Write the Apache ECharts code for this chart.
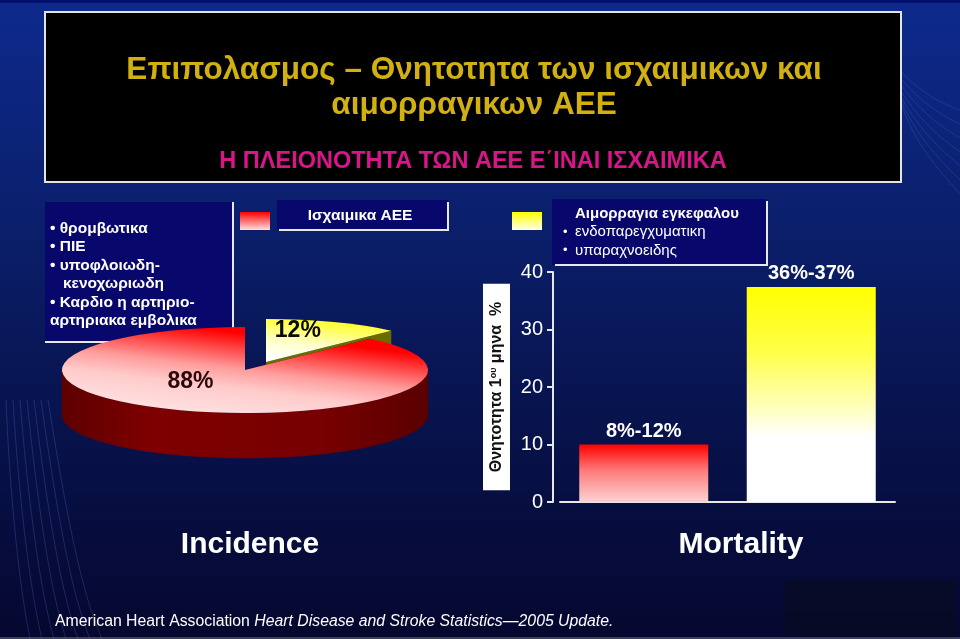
<!DOCTYPE html>
<html><head><meta charset="utf-8">
<script src="https://cdn.jsdelivr.net/npm/echarts@6/dist/echarts.min.js"></script>
<style>html,body{margin:0;padding:0;background:#0a1a5a}#c{width:960px;height:639px}</style>
</head><body><div id="c"></div>
<script>
// ---------- data ----------
const titleLines = ['Επιπολασμος – Θνητοτητα των ισχαιμικων και', 'αιμορραγικων ΑΕΕ'];
const subtitle = 'Η ΠΛΕΙΟΝΟΤΗΤΑ ΤΩΝ ΑΕΕ Ε΄ΙΝΑΙ ΙΣΧΑΙΜΙΚΑ';
const ischemicTypeLines = ['• θρομβωτικα', '• ΠΙΕ', '• υποφλοιωδη-', '   κενοχωριωδη', '• Καρδιο η αρτηριο-', 'αρτηριακα εμβολικα'];
const ischemicLegend = 'Ισχαιμικα ΑΕΕ';
const hemorrhageLegendTitle = 'Αιμορραγια εγκεφαλου';
const hemorrhageTypes = ['ενδοπαρεγχυματικη', 'υπαραχνοειδης'];
const pieCategories = ['Αιμορραγικα ΑΕΕ', 'Ισχαιμικα ΑΕΕ'];
const incidenceValues = [12, 88];
const incidenceLabels = ['12%', '88%'];
const mortalityCategories = ['Ισχαιμικα ΑΕΕ', 'Αιμορραγια εγκεφαλου'];
const mortalityValues = [10, 37.4];
const mortalityLabels = ['8%-12%', '36%-37%'];
const yTickMin = 0, yTickMax = 40, yTickStep = 10;
const yAxisName = 'Θνητοτητα 1{sup|ου} μηνα  %';
const panelTitles = ['Incidence', 'Mortality'];
const sourceNormal = 'American Heart Association ';
const sourceItalic = 'Heart Disease and Stroke Statistics—2005 Update.';

// ---------- styles ----------
const SANS = "'Liberation Sans', Arial, sans-serif";
const lin = (x, y, x2, y2, stops, global) => ({type: 'linear', x, y, x2, y2, global: !!global,
  colorStops: stops.map(s => ({offset: s[0], color: s[1]}))});

const PIE = {cx: 245, cy: 370, rx: 183, ry: 43, depth: 45};
const pieExplode = [[21, -8], [0, 0]];
const pieTopFill = [
  lin(0.25, 1, 0.85, 0, [[0, '#ffffff'], [0.35, '#ffffd0'], [1, '#ffff00']]),
  lin(0.725, 0.055, 0.275, 0.945, [[0, '#ff0000'], [0.12, '#ff0000'], [0.3, '#ff4a4a'], [0.5, '#ff9c9c'], [0.7, '#ffcaca'], [1, '#ffe0e0']])
];
const pieSideFill = [
  '#6b6b00',
  lin(62, 0, 428, 0, [[0, '#5e0000'], [0.25, '#7e0000'], [0.7, '#780000'], [1, '#5a0000']], true)
];
const pieLabelStyle = [{da: -8, r: 0.74, color: '#0a0a0a'}, {da: 25, r: 0.41, color: '#2a0808'}];

function ellPt(cx, cy, deg, r) {
  const a = deg * Math.PI / 180; r = r == null ? 1 : r;
  return [cx + PIE.rx * r * Math.sin(a), cy - PIE.ry * r * Math.cos(a)];
}

function renderPie(params, api) {
  const i = params.dataIndex;
  const total = incidenceValues.reduce((a, b) => a + b, 0);
  let start = 0;
  for (let k = 0; k < i; k++) start += incidenceValues[k] / total * 360;
  const sweep = api.value(0) / total * 360;
  const end = start + sweep;
  const cx = PIE.cx + pieExplode[i][0], cy = PIE.cy + pieExplode[i][1];
  const D = PIE.depth;
  const children = [];
  const zb = i * 10;
  // front-facing outer side band
  const f0 = Math.max(start, 90), f1 = Math.min(end, 270);
  if (f1 > f0) {
    const n = Math.ceil((f1 - f0) / 2), up = [], dn = [];
    for (let s = 0; s <= n; s++) {
      const p = ellPt(cx, cy, f0 + (f1 - f0) * s / n);
      up.push(p); dn.push([p[0], p[1] + D]);
    }
    children.push({type: 'polygon', z2: zb + 1, shape: {points: up.concat(dn.reverse())},
      style: {fill: pieSideFill[i], stroke: pieSideFill[i], lineWidth: 0.5}});
  }
  // radial cut faces
  [start, end].forEach(t => {
    const p = ellPt(cx, cy, t);
    children.push({type: 'polygon', z2: zb + 1,
      shape: {points: [[cx, cy], p, [p[0], p[1] + D], [cx, cy + D]]},
      style: {fill: pieSideFill[i]}});
  });
  // top face: circular sector squashed into an ellipse
  children.push({type: 'group', x: cx, y: cy, scaleY: PIE.ry / PIE.rx, children: [
    {type: 'sector', z2: zb + 2,
      shape: {cx: 0, cy: 0, r0: 0, r: PIE.rx, startAngle: (start - 90) * Math.PI / 180, endAngle: (end - 90) * Math.PI / 180, clockwise: true},
      style: {fill: pieTopFill[i]}}
  ]});
  const ls = pieLabelStyle[i];
  const lp = ellPt(cx, cy, start + sweep / 2 + ls.da, ls.r);
  children.push({type: 'text', z2: 50, style: {text: incidenceLabels[i], x: lp[0], y: lp[1],
    align: 'center', verticalAlign: 'middle', fill: ls.color,
    font: 'bold 23px ' + SANS}});
  return {type: 'group', children};
}

const barColors = [
  lin(0, 0, 0, 1, [[0, '#ff0000'], [0.45, '#ff7a7a'], [1, '#fad2d2']]),
  lin(0, 0, 0, 1, [[0, '#ffff00'], [0.3, '#ffff48'], [0.55, '#ffffb8'], [0.7, '#ffffff'], [1, '#ffffff']])
];

// ---------- decorative / layout graphics ----------
const g = [];
g.push({type: 'rect', z: -10, silent: true, shape: {x: 0, y: 0, width: 960, height: 639},
  style: {fill: lin(0, 0, 0, 1, [[0, '#0d2a8c'], [0.3, '#0b2170'], [0.6, '#081552'], [1, '#05072e']])}});
g.push({type: 'rect', z: -9, silent: true, shape: {x: 0, y: 0, width: 960, height: 3}, style: {fill: '#021070'}});
for (let k = 0; k < 7; k++) {
  g.push({type: 'bezierCurve', z: -8, silent: true,
    shape: {x1: 6 + k * 7, y1: 400, cpx1: 10 + k * 9, cpy1: 500, x2: 30 + k * 12, y2: 639, cpx2: 20 + k * 10, cpy2: 590},
    style: {stroke: 'rgba(110,140,255,0.22)', lineWidth: 1, fill: null}});
  g.push({type: 'bezierCurve', z: -8, silent: true,
    shape: {x1: 860 + k * 5, y1: 20 + k * 6, cpx1: 900, cpy1: 80 + k * 8, x2: 960, y2: 110 + k * 14, cpx2: 930, cpy2: 100 + k * 10},
    style: {stroke: 'rgba(140,170,255,0.15)', lineWidth: 1, fill: null}});
}
g.push({type: 'rect', z: -7, silent: true, shape: {x: 785, y: 580, width: 170, height: 56}, style: {fill: 'rgba(10,12,30,0.55)'}});
g.push({type: 'line', z: -7, silent: true, shape: {x1: 0, y1: 638, x2: 960, y2: 638}, style: {stroke: '#7a7a8a', lineWidth: 1}});

// title box
g.push({type: 'rect', shape: {x: 45, y: 12, width: 856, height: 170}, style: {fill: '#000000', stroke: '#e4e4e4', lineWidth: 2}});
g.push({type: 'text', style: {text: titleLines.join('\n'), x: 474, y: 88, align: 'center', verticalAlign: 'middle',
  fill: '#d2b010', font: 'bold 31.5px ' + SANS, lineHeight: 35}});
g.push({type: 'text', style: {text: subtitle, x: 473, y: 162, align: 'center', verticalAlign: 'middle',
  fill: '#d8168a', font: 'bold 23.5px ' + SANS}});

// left ischemic types box
g.push({type: 'rect', shape: {x: 45, y: 202, width: 188, height: 140}, style: {fill: '#08086c'}});
g.push({type: 'polyline', shape: {points: [[233, 202], [233, 342], [45, 342]]}, style: {stroke: '#e8e8e8', lineWidth: 2, fill: null}});
g.push({type: 'text', style: {text: ischemicTypeLines.join('\n'), x: 50, y: 219, verticalAlign: 'top',
  fill: '#ffffff', font: 'bold 15.5px ' + SANS, lineHeight: 18.5}});

// legend: ischemic
g.push({type: 'rect', shape: {x: 240, y: 212, width: 30, height: 18},
  style: {fill: lin(0, 0, 0, 1, [[0, '#ff0000'], [1, '#ffe0e0']])}});
g.push({type: 'rect', shape: {x: 277, y: 200, width: 171, height: 30}, style: {fill: '#08086c'}});
g.push({type: 'polyline', shape: {points: [[448, 202], [448, 230], [279, 230]]}, style: {stroke: '#e8e8e8', lineWidth: 2, fill: null}});
g.push({type: 'text', style: {text: ischemicLegend, x: 360, y: 216, align: 'center', verticalAlign: 'middle',
  fill: '#ffffff', font: 'bold 15.5px ' + SANS}});

// legend: hemorrhagic
g.push({type: 'rect', shape: {x: 512, y: 212, width: 30, height: 18},
  style: {fill: lin(0, 0, 0, 1, [[0, '#ffff00'], [1, '#ffffe8']])}});
g.push({type: 'rect', shape: {x: 552, y: 199, width: 215, height: 66}, style: {fill: '#08086c'}});
g.push({type: 'polyline', shape: {points: [[767, 201], [767, 265], [555, 265]]}, style: {stroke: '#e8e8e8', lineWidth: 2, fill: null}});
g.push({type: 'text', style: {text: hemorrhageLegendTitle, x: 575, y: 214, verticalAlign: 'middle',
  fill: '#ffffff', font: 'bold 15px ' + SANS}});
hemorrhageTypes.forEach((t, k) => {
  g.push({type: 'text', style: {text: '•', x: 563, y: 232 + k * 18.5, verticalAlign: 'middle', fill: '#ffffff', font: '13px ' + SANS}});
  g.push({type: 'text', style: {text: t, x: 575, y: 232 + k * 18.5, verticalAlign: 'middle', fill: '#ffffff', font: '15px ' + SANS}});
});

// panel titles
g.push({type: 'text', style: {text: panelTitles[0], x: 250, y: 545, align: 'center', verticalAlign: 'middle', fill: '#ffffff', font: 'bold 30px ' + SANS}});
g.push({type: 'text', style: {text: panelTitles[1], x: 741, y: 545, align: 'center', verticalAlign: 'middle', fill: '#ffffff', font: 'bold 30px ' + SANS}});

// source
g.push({type: 'text', style: {text: '{n|' + sourceNormal + '}{i|' + sourceItalic + '}', x: 55, y: 622, verticalAlign: 'middle',
  fill: '#ffffff', font: '15.8px ' + SANS,
  rich: {n: {fill: '#ffffff', font: '15.8px ' + SANS}, i: {fill: '#ffffff', font: 'italic 15.8px ' + SANS}}}});

const chart = echarts.init(document.getElementById('c'), null, {renderer: 'canvas', width: 960, height: 639});
chart.setOption({
  animation: false,
  graphic: {elements: g},
  grid: {left: 560, top: 272, width: 335, height: 230},
  xAxis: {type: 'category', data: mortalityCategories,
    axisLine: {lineStyle: {color: '#e8e8e8', width: 2}}, axisTick: {show: false}, axisLabel: {show: false}},
  yAxis: {type: 'value', min: yTickMin, max: yTickMax, interval: yTickStep, offset: 7,
    axisLine: {show: true, lineStyle: {color: '#e8e8e8', width: 2}},
    axisTick: {show: true, length: 6, lineStyle: {color: '#e8e8e8', width: 2}},
    splitLine: {show: false},
    axisLabel: {color: '#ffffff', fontSize: 20, fontFamily: SANS, margin: 10},
    name: yAxisName, nameLocation: 'middle', nameRotate: 90, nameGap: 43,
    nameTextStyle: {color: '#111111', fontSize: 16, fontWeight: 'bold', fontFamily: SANS, backgroundColor: '#ffffff',
      padding: [6, 18, 5, 18], rich: {sup: {fontSize: 9, fontWeight: 'bold', color: '#111111', fontFamily: SANS, verticalAlign: 'top'}}}},
  series: [
    {type: 'bar', barWidth: 129,
      data: mortalityValues.map((v, i) => ({value: v, itemStyle: {color: barColors[i]}})),
      label: {show: true, position: 'top', distance: 3, color: '#ffffff', fontSize: 20, fontWeight: 'bold', fontFamily: SANS,
        formatter: p => mortalityLabels[p.dataIndex]}},
    {type: 'custom', coordinateSystem: 'none', renderItem: renderPie,
      data: incidenceValues.map((v, i) => ({name: pieCategories[i], value: v}))}
  ]
});
</script></body></html>
